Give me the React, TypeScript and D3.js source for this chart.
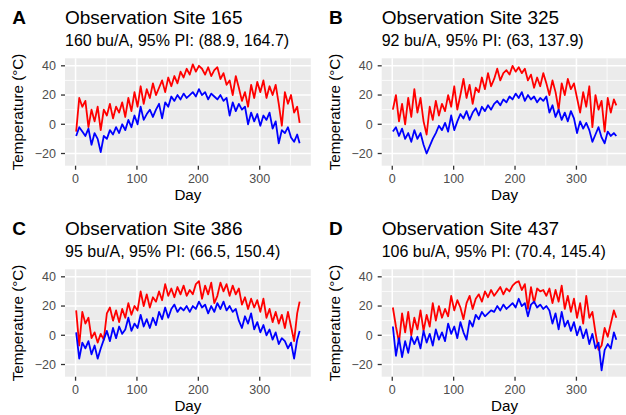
import React from 'react';
import * as d3 from 'd3';

// day of year for each reading (every 5th day, plus the last day)
const days = [...d3.range(1, 362, 5), 365];

const tagLabels = ['A', 'B', 'C', 'D'];
const siteIds = [165, 325, 386, 437];
const yieldEst = [160, 92, 95, 106];
const piLower = [88.9, 63, 66.5, 70.4];
const piUpper = [164.7, 137.9, 150.4, 145.4];

const maxTempA = [-5, 18, 12, 16, -2, 10, 2, 12, -4, 10, 6, 14, 4, 12, 8, 15, 5, 18, 9, 22,
  12, 26, 14, 24, 18, 28, 20, 25, 30, 22, 32, 26, 33, 28, 36, 32, 38, 34, 41, 36,
  40, 38, 34, 39, 33, 37, 39, 31, 35, 27, 30, 20, 33, 25, 16, 22, 12, 27, 18, 29,
  22, 30, 18, 26, 20, 27, 14, -1, 22, 14, 20, 8, 12, 1];
const minTempA = [-8, -2, -5, -8, -3, -14, -6, -10, -19, -8, -10, -4, -7, -2, -6, 0, -4, 3, -2, 6,
  0, 12, 3, 7, 10, 5, 10, 14, 4, 15, 12, 19, 16, 20, 17, 21, 18, 20, 22, 19,
  24, 20, 22, 17, 21, 19, 17, 20, 16, 18, 6, 15, 9, 14, 10, 12, 0, 8, 2, 7,
  -1, 6, 3, 8, -3, 2, -13, -4, -6, -2, -9, -12, -7, -13];

const maxTempB = [10, 20, 2, 14, 0, 18, 5, 24, 8, 18, 2, -7, 12, 3, 16, 6, 14, 9, 20, 12,
  26, 10, 20, 31, 18, 27, 14, 25, 22, 32, 24, 35, 26, 31, 38, 30, 35, 37, 34, 40,
  36, 39, 35, 38, 30, 34, 25, 32, 26, 35, 28, 20, 30, 22, 10, 28, 20, 31, 24, 28,
  18, 8, 22, 12, 26, -2, 20, 10, 16, -5, 18, 8, 17, 13];
const minTempB = [-5, -2, -8, -3, -10, -6, -12, -4, -10, -6, -14, -20, -15, -10, -6, -1, -4, 1, -5, 6,
  -4, 2, 7, 4, 9, 3, 8, 11, 6, 12, 9, 13, 10, 14, 16, 13, 17, 15, 19, 17,
  21, 18, 22, 16, 20, 17, 19, 15, 18, 16, 19, 8, 13, 5, 10, 3, 8, 2, 9, 4,
  -6, 2, -3, 1, -4, -12, -7, -2, -9, -13, -5, -8, -6, -8];

const maxTempC = [17, -7, 16, 8, 12, -2, 2, -5, 1, -3, 15, 19, 10, 17, 9, 18, 12, 22, 14, 20,
  17, 30, 20, 28, 19, 26, 23, 30, 24, 35, 27, 32, 26, 33, 28, 34, 27, 31, 28, 35,
  37, 25, 34, 28, 36, 22, 27, 36, 30, 35, 27, 34, 28, 32, 21, 26, 18, 25, 19, 24,
  16, 25, 12, 18, 9, 16, 8, 14, 5, 16, 6, -4, 15, 23];
const minTempC = [2, -16, -5, -9, -4, -13, -7, -16, -9, -3, 3, -4, 5, -2, 6, 1, 4, 12, 3, 8,
  5, 14, 6, 11, 5, 12, 7, 16, 11, 19, 12, 18, 21, 16, 19, 17, 20, 16, 20, 18,
  23, 19, 21, 15, 20, 16, 22, 18, 23, 17, 20, 16, 18, 10, 5, 13, 8, 15, 4, 9,
  2, 7, 0, 4, -3, 2, -6, -2, -4, -9, -5, -16, -3, 3];

const maxTempD = [19, 6, -5, 15, 2, 16, 0, 12, 4, 17, 3, 14, 6, 22, 10, 20, 12, 18, 13, 27,
  17, 24, 19, 11, 22, 27, 18, 25, 28, 23, 30, 26, 31, 27, 30, 33, 28, 32, 30, 34,
  36, 37, 31, 35, 18, 33, 22, 32, 30, 31, 27, 32, 22, 31, 23, 34, 18, 27, 16, 25,
  12, 22, 8, 27, 12, 16, 2, -10, -7, 5, -1, 8, 17, 12];
const minTempD = [6, -14, -2, -15, -4, -12, -1, -6, -1, -9, 3, -5, 1, -7, 4, -3, 2, -4, 8, 1,
  6, -2, 9, 2, -3, 10, 6, 14, 11, 16, 13, 15, 17, 16, 20, 17, 21, 18, 20, 22,
  19, 25, 20, 22, 13, 21, 23, 19, 21, 18, 20, 17, 8, 15, 4, 16, 6, 10, 3, 9,
  0, 6, -2, 4, -6, 1, -9, -5, -24, -10, -6, -9, 2, -3];

const maxSeries = [maxTempA, maxTempB, maxTempC, maxTempD];
const minSeries = [minTempA, minTempB, minTempC, minTempD];

const xTicks = [0, 100, 200, 300];
const xMinor = [50, 150, 250, 350];
const yTicks = [-20, 0, 20, 40];
const yMinor = [-10, 10, 30];
const dayRange = [1, 365];
const tempRange = [-25, 41.8];

const font = 'Liberation Sans, Arial, Helvetica, sans-serif';
const W = 626, H = 415;
const cellX = [0, 316.7];
const cellY = [0, 211];
const panel = { left: 65, right: 310.8, top: 58.3, bottom: 165.7 };

function expand([a, b]: number[]) {
  const p = (b - a) * 0.05;
  return [a - p, b + p];
}

const x = d3.scaleLinear().domain(expand(dayRange)).range([panel.left, panel.right]);
const y = d3.scaleLinear().domain(expand(tempRange)).range([panel.bottom, panel.top]);
const fmt = d3.format('d');

function Panel({ i }: { i: number }) {
  const line = d3.line<number>().x((_, k) => x(days[k])).y(d => y(d));
  const cx = (panel.left + panel.right) / 2;
  const cy = (panel.top + panel.bottom) / 2;
  return (
    <g transform={`translate(${cellX[i % 2]},${cellY[Math.floor(i / 2)]})`}>
      <text x={12.3} y={23.5} fontSize={19} fontWeight="bold">{tagLabels[i]}</text>
      <text x={panel.left} y={23.5} fontSize={19}>Observation Site {siteIds[i]}</text>
      <text x={panel.left} y={46} fontSize={16}>
        {`${yieldEst[i]} bu/A, 95% PI: (${piLower[i]}, ${piUpper[i]})`}
      </text>
      <rect x={panel.left} y={panel.top} width={panel.right - panel.left}
        height={panel.bottom - panel.top} fill="#EBEBEB" />
      {xMinor.map(t => (
        <line key={'xm' + t} x1={x(t)} x2={x(t)} y1={panel.top} y2={panel.bottom}
          stroke="#fff" strokeWidth={0.77} />
      ))}
      {yMinor.map(t => (
        <line key={'ym' + t} x1={panel.left} x2={panel.right} y1={y(t)} y2={y(t)}
          stroke="#fff" strokeWidth={0.77} />
      ))}
      {xTicks.map(t => (
        <line key={'xg' + t} x1={x(t)} x2={x(t)} y1={panel.top} y2={panel.bottom}
          stroke="#fff" strokeWidth={1.54} />
      ))}
      {yTicks.map(t => (
        <line key={'yg' + t} x1={panel.left} x2={panel.right} y1={y(t)} y2={y(t)}
          stroke="#fff" strokeWidth={1.54} />
      ))}
      <path d={line(maxSeries[i]) || ''} fill="none" stroke="#FF0000" strokeWidth={1.8}
        strokeLinejoin="round" />
      <path d={line(minSeries[i]) || ''} fill="none" stroke="#0000FF" strokeWidth={1.8}
        strokeLinejoin="round" />
      {xTicks.map(t => (
        <g key={'xt' + t}>
          <line x1={x(t)} x2={x(t)} y1={panel.bottom} y2={panel.bottom + 4}
            stroke="#333333" strokeWidth={1.3} />
          <text x={x(t)} y={183.3} fontSize={12.5} fill="#4D4D4D" textAnchor="middle">{fmt(t)}</text>
        </g>
      ))}
      {yTicks.map(t => (
        <g key={'yt' + t}>
          <line x1={panel.left - 4} x2={panel.left} y1={y(t)} y2={y(t)}
            stroke="#333333" strokeWidth={1.3} />
          <text x={56} y={y(t)} dy="0.35em" fontSize={12.5} fill="#4D4D4D" textAnchor="end">{fmt(t)}</text>
        </g>
      ))}
      <text x={cx} y={200} fontSize={15.2} textAnchor="middle">Day</text>
      <text transform={`translate(23,${cy}) rotate(-90)`} fontSize={15.2} textAnchor="middle">
        Temperature (°C)
      </text>
    </g>
  );
}

export default function App() {
  return (
    <svg width={W} height={H} style={{ position: 'absolute', left: 0, top: 0, background: '#fff' }}
      fontFamily={font}>
      <rect width={W} height={H} fill="#fff" />
      {[0, 1, 2, 3].map(i => <Panel key={i} i={i} />)}
    </svg>
  );
}
